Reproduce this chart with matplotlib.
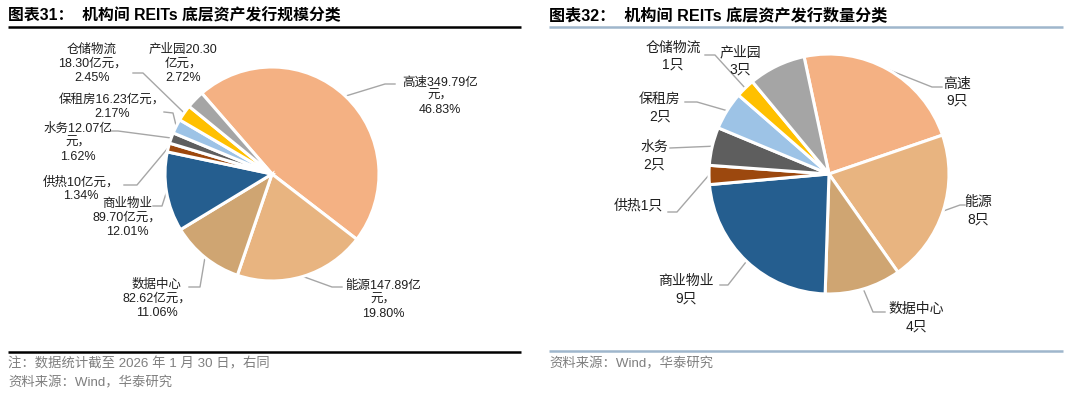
import numpy as np
import matplotlib.pyplot as plt

plt.rcParams['font.family'] = ['Liberation Sans', 'Noto Sans CJK SC', 'DejaVu Sans']

# 数据
cats = ['高速', '能源', '数据中心', '商业物业', '供热', '水务', '保租房', '仓储物流', '产业园']
scale = [349.79, 147.89, 82.62, 89.70, 10.00, 12.07, 16.23, 18.30, 20.30]   # 亿元
scale_pct = ['46.83%', '19.80%', '11.06%', '12.01%', '1.34%', '1.62%', '2.17%', '2.45%', '2.72%']
count = [9, 8, 4, 9, 1, 2, 2, 1, 3]   # 只
colors = ['#F4B183', '#E8B480', '#CFA572', '#255E8F', '#9C480E',
          '#5E5E5E', '#9DC3E6', '#FFC000', '#A5A5A5']

W, H = 1080, 398
fig = plt.figure(figsize=(W / 100, H / 100), dpi=100)
bg = fig.add_axes([0, 0, 1, 1])
bg.set_xlim(0, W)
bg.set_ylim(H, 0)
bg.axis('off')


def draw_pie(vals, cx, cy, r, start):
    ax = fig.add_axes([(cx - r) / W, 1 - (cy + r) / H, 2 * r / W, 2 * r / H])
    wedges, _ = ax.pie(vals, colors=colors, startangle=start, counterclock=False,
                       radius=1, wedgeprops=dict(edgecolor='white', linewidth=2.2))
    ax.set_xlim(-1, 1)
    ax.set_ylim(-1, 1)
    ax.axis('off')
    # 每块中线与饼边缘的交点（像素坐标）
    pts = []
    for w in wedges:
        a = np.deg2rad((w.theta1 + w.theta2) / 2)
        pts.append((cx + r * np.cos(a), cy - r * np.sin(a)))
    return pts


txt_c = '#1F1F1F'
line_c = '#A6A6A6'

# ---- 左图：规模 ----
pts1 = draw_pie(scale, 272, 174, 107, 131)
left_labels = {
    '高速': (440, 96, '高速349.79亿\n元，\n46.83%', [(385, 84), (395, 84)]),
    '能源': (383, 300, '能源147.89亿\n元，\n19.80%', [(332, 287), (342, 287)]),
    '数据中心': (157, 299, '数据中心\n82.62亿元，\n11.06%', [(200, 287), (189, 287)]),
    '商业物业': (127, 218, '商业物业\n89.70亿元，\n12.01%', [(162, 206), (153, 206)]),
    '供热': (81, 189, '供热10亿元，\n1.34%', [(137, 185), (124, 185)]),
    '水务': (78, 143, '水务12.07亿\n元，\n1.62%', [(118, 131), (111, 131)]),
    '保租房': (112, 107, '保租房16.23亿元，\n2.17%', [(173, 113), (164, 112)]),
    '仓储物流': (92, 64, '仓储物流\n18.30亿元，\n2.45%', [(143, 73), (133, 73)]),
    '产业园': (183, 64, '产业园20.30\n亿元，\n2.72%', None),
}
for i, c in enumerate(cats):
    x, y, s, path = left_labels[c]
    bg.text(x, y, s, ha='center', va='center', fontsize=9, color=txt_c,
            linespacing=1.2)
    if path:
        xs = [pts1[i][0]] + [p[0] for p in path]
        ys = [pts1[i][1]] + [p[1] for p in path]
        bg.plot(xs, ys, color=line_c, lw=1.0)

# ---- 右图：数量 ----
pts2 = draw_pie(count, 829, 174, 120, 102)
right_labels = {
    '高速': (957, 92, '高速\n9只', [(932, 87), (942, 87)]),
    '能源': (978, 211, '能源\n8只', [(960, 205), (965, 205)]),
    '数据中心': (916, 318, '数据中心\n4只', [(873, 312), (885, 312)]),
    '商业物业': (686, 290, '商业物业\n9只', [(728, 285), (720, 285)]),
    '供热': (638, 206, '供热1只', [(677, 212), (668, 212)]),
    '水务': (654, 156, '水务\n2只', [(670, 148)]),
    '保租房': (660, 108, '保租房\n2只', [(697, 102), (685, 102)]),
    '仓储物流': (673, 56, '仓储物流\n1只', [(715, 55), (705, 55)]),
    '产业园': (740, 61, '产业园\n3只', None),
}
for i, c in enumerate(cats):
    x, y, s, path = right_labels[c]
    bg.text(x, y, s, ha='center', va='center', fontsize=10, color=txt_c,
            linespacing=1.3)
    if path:
        xs = [pts2[i][0]] + [p[0] for p in path]
        ys = [pts2[i][1]] + [p[1] for p in path]
        bg.plot(xs, ys, color=line_c, lw=1.0)

# 标题、分隔线和注释
bg.text(8, 15, '图表31：  机构间 REITs 底层资产发行规模分类', fontsize=11.4, fontweight='bold',
        ha='left', va='center', color='black')
bg.text(549, 15, '图表32：  机构间 REITs 底层资产发行数量分类', fontsize=11.6, fontweight='bold',
        ha='left', va='center', color='black')
bg.plot([8, 521], [27, 27], color='black', lw=1.8, solid_capstyle='butt')
bg.plot([549, 1063], [27, 27], color='#9FB6CC', lw=1.8, solid_capstyle='butt')
bg.plot([8, 521], [352, 352], color='black', lw=1.8, solid_capstyle='butt')
bg.plot([549, 1063], [351, 351], color='#9FB6CC', lw=1.8, solid_capstyle='butt')

foot_c = '#7F7F7F'
bg.text(8, 364, '注：数据统计截至 2026 年 1 月 30 日，右同', fontsize=9.6, color=foot_c,
        ha='left', va='center')
bg.text(8, 383, '资料来源：Wind，华泰研究', fontsize=9.6, color=foot_c, ha='left', va='center')
bg.text(549, 364, '资料来源：Wind，华泰研究', fontsize=9.6, color=foot_c, ha='left', va='center')

fig.savefig('out.png', dpi=100, facecolor='white')
